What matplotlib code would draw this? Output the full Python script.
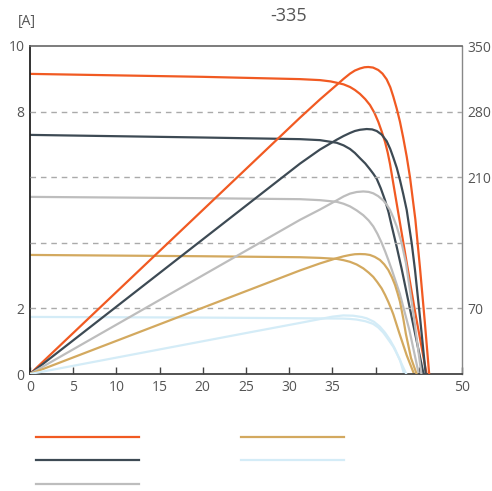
import matplotlib
matplotlib.use("Agg")
import matplotlib.pyplot as plt

plt.rcParams['font.family'] = ['Open Sans', 'DejaVu Sans']

# Colors per irradiance level
colors = ['#F15A22', '#3D4A54', '#BDBDBD', '#D3A95F', '#D4ECF7']

# I-V curves (voltage [V], current [A])
iv_v = [
    [0, 20, 31.25, 33.56, 34.8, 35.5, 36.3, 37.04, 37.6, 38.19, 38.8, 39.35, 39.85,
     40.31, 40.7, 41.09, 41.4, 41.67, 42.6, 43.5, 44.6, 45.9],
    [0, 20, 31.25, 33.56, 35.5, 36.3, 37.04, 37.6, 38.19, 38.8, 39.35, 39.75, 40.13,
     40.6, 41.09, 41.5, 41.86, 42.44, 43.02, 44.2, 45.55],
    [0, 20, 31.25, 33.56, 35.5, 36.3, 37.04, 37.8, 38.58, 39.2, 39.73, 40.2, 40.7,
     41.1, 41.47, 41.86, 42.8, 43.9, 45.0],
    [0, 20, 31.25, 33.56, 35.5, 36.3, 37.04, 37.8, 38.58, 39.2, 39.73, 40.2, 40.7,
     41.1, 41.47, 41.77, 42.05, 42.74, 43.6, 44.45],
    [0, 20, 31.25, 36.2, 37.0, 37.8, 38.8, 39.7, 40.3, 40.9, 41.5, 42.05, 42.45,
     42.82, 43.3],
]
iv_i = [
    [9.15, 9.06, 8.99, 8.96, 8.92, 8.88, 8.83, 8.75, 8.66, 8.54, 8.38, 8.20, 7.97,
     7.69, 7.40, 7.08, 6.75, 6.40, 4.95, 3.55, 1.85, 0],
    [7.29, 7.21, 7.16, 7.13, 7.05, 6.97, 6.86, 6.74, 6.58, 6.42, 6.24, 6.10, 5.95,
     5.66, 5.30, 4.93, 4.52, 3.88, 3.20, 1.70, 0],
    [5.40, 5.36, 5.33, 5.30, 5.25, 5.19, 5.11, 4.99, 4.84, 4.68, 4.50, 4.28, 4.00,
     3.74, 3.48, 3.19, 2.45, 1.35, 0],
    [3.63, 3.59, 3.56, 3.54, 3.51, 3.47, 3.42, 3.34, 3.22, 3.09, 2.96, 2.80, 2.61,
     2.41, 2.20, 2.01, 1.82, 1.25, 0.57, 0],
    [1.74, 1.72, 1.70, 1.69, 1.68, 1.66, 1.61, 1.53, 1.42, 1.26, 1.04, 0.83, 0.63,
     0.43, 0],
]

# P-V curves (voltage [V], power [W])
pv_v = [
    [0, 20, 31.25, 33.56, 35.5, 36.3, 37.04, 37.6, 38.19, 38.7, 39.15, 39.7, 40.31,
     40.8, 41.28, 41.7, 42.05, 42.45, 42.82, 43.2, 43.6, 43.98, 44.6, 45.14, 45.7, 46.2],
    [0, 31.25, 33.56, 35.5, 36.3, 37.04, 37.6, 38.19, 38.97, 39.6, 40.13, 40.7, 41.28,
     41.7, 42.05, 42.45, 42.82, 43.2, 43.6, 44.18, 44.56, 45.2, 45.8],
    [0, 31.25, 33.56, 35.5, 36.3, 37.04, 37.8, 38.58, 39.2, 39.73, 40.3, 40.89, 41.3,
     41.67, 42.05, 42.44, 43.02, 43.52, 44.4, 45.3],
    [0, 31.25, 33.56, 35.5, 36.3, 37.04, 37.6, 38.19, 38.8, 39.35, 39.9, 40.5, 41.0,
     41.47, 41.9, 42.25, 42.55, 42.82, 43.2, 43.5, 44.1, 44.75],
    [0, 25.46, 31.25, 33.5, 35.0, 36.26, 37.4, 38.4, 38.97, 39.8, 40.5, 41.1, 41.67,
     42.2, 42.63, 43.1, 43.55],
]
pv_p = [
    [0, 175, 273.5, 293, 308.5, 315, 320.5, 323.8, 326, 327.3, 327.6, 327, 324.4,
     320.5, 314.4, 306, 296, 283, 269.2, 252, 232, 210, 165, 113, 55, 0],
    [0, 224.5, 239.5, 250, 254, 257.2, 259.3, 260.6, 261.4, 261, 259.3, 255.5, 248.5,
     240, 231, 220, 207, 192, 175, 139.5, 111, 55, 0],
    [0, 164.5, 175.5, 185.3, 189.5, 192.5, 194.2, 194.8, 194.3, 192.8, 189.8, 185.2,
     180.5, 175, 167, 157.5, 139.5, 118, 63, 0],
    [0, 110.5, 118, 123.6, 125.6, 127, 127.8, 128, 127.8, 127, 125, 121.7, 117,
     111, 103, 95, 86, 77.2, 59.4, 43, 17, 0],
    [0, 44.5, 54.5, 58.5, 61.2, 62.5, 62.2, 60.8, 59.4, 55.8, 50.5, 44, 36.3,
     27.5, 18.5, 9, 0],
]

x_ticks = [0, 5, 10, 15, 20, 25, 30, 35, 40, 45, 50]
x_labels = ['0', '5', '10', '15', '20', '25', '30', '35', '', '', '50']
i_ticks = [0, 2, 4, 6, 8, 10]
i_labels = ['0', '2', '', '', '8', '10']
p_ticks = [0, 70, 140, 210, 280, 350]
p_labels = ['', '70', '', '210', '280', '350']

fig = plt.figure(figsize=(4.92, 4.91), dpi=100)
ax = fig.add_axes([30 / 492, 117 / 491, 432 / 492, 328 / 491])
ax2 = ax.twinx()

handles = []
for k in range(5):
    h, = ax.plot(iv_v[k], iv_i[k], color=colors[k], lw=1.6, solid_joinstyle='round')
    ax2.plot(pv_v[k], pv_p[k], color=colors[k], lw=1.6, solid_joinstyle='round')
    handles.append(h)

ax.set_xlim(0, 50)
ax.set_ylim(0, 10)
ax2.set_ylim(0, 350)

# dashed grid at the power levels
for p in p_ticks[1:-1]:
    ax2.axhline(p, color='#AAAAAA', lw=1, ls=(0, (4, 3.5)), zorder=0)

tick_color = '#555555'
ax.set_xticks(x_ticks)
ax.set_xticklabels(x_labels)
ax.set_yticks(i_ticks)
ax.set_yticklabels(i_labels)
ax2.set_yticks(p_ticks)
ax2.set_yticklabels(p_labels)

ax.tick_params(axis='x', direction='in', length=5, width=1, color='#444444',
               labelsize=10, labelcolor=tick_color, pad=4)
ax.tick_params(axis='y', length=0, labelsize=10, labelcolor=tick_color, pad=4)
ax2.tick_params(axis='y', length=0, labelsize=10, labelcolor=tick_color, pad=4)

ax.spines['left'].set_color('#222222')
ax.spines['left'].set_linewidth(1.3)
ax.spines['bottom'].set_color('#444444')
ax.spines['bottom'].set_linewidth(1.3)
ax.spines['top'].set_color('#666666')
ax.spines['top'].set_linewidth(1.2)
ax.spines['right'].set_color('#888888')
ax.spines['right'].set_linewidth(1.0)
for s in ax2.spines.values():
    s.set_visible(False)

fig.text(18 / 492, 1 - 22 / 491, '[A]', fontsize=10, color=tick_color,
         ha='left', va='center')
fig.text(289 / 492, 1 - 16 / 491, '-335', fontsize=13, color=tick_color,
         ha='center', va='center')

# legend without text, two columns
fig.legend(handles, [' '] * 5, ncol=2, frameon=False,
           loc='upper left', bbox_to_anchor=(36 / 492, 1 - 431 / 491),
           borderpad=0, borderaxespad=0, handlelength=7.4, handletextpad=0.8,
           columnspacing=6.3, labelspacing=0.6, fontsize=10)

fig.savefig('out.png', dpi=100)
